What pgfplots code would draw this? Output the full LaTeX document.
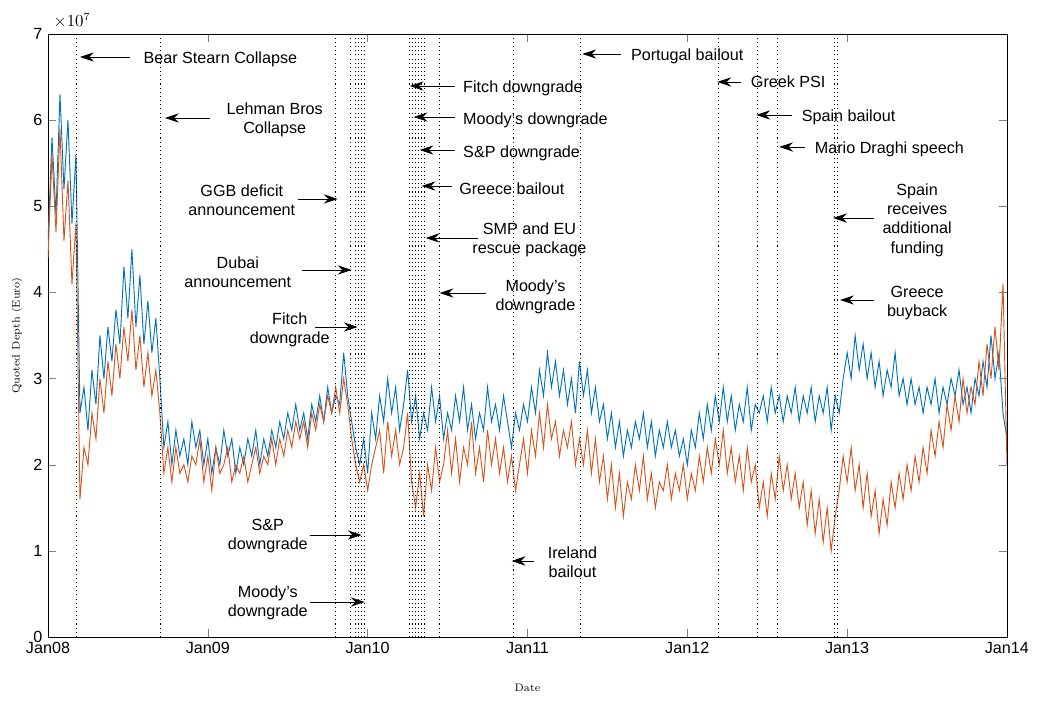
\documentclass[border=0pt]{standalone}
\usepackage{pgfplots}
\pgfplotsset{compat=1.18}
\usepackage{pgfplotstable}
\usepackage{fontspec}
\setmainfont{Liberation Sans}
\usetikzlibrary{arrows.meta}
\definecolor{mblue}{RGB}{0,114,189}
\definecolor{morange}{RGB}{217,83,25}
\def\u{0.65pt}
\newcommand\PP[2]{(axis cs:{2008+(#1-48)/160},{(637-#2)/86.14})}
\newcommand\ar[3]{\draw[-{Stealth[length=9pt,width=6pt]},line width=0.6pt] \PP{#3}{#2} -- \PP{#1}{#2};}
\pgfplotstableread{
x b o
2008.000 4.6 4.4
2008.025 5.8 5.6
2008.050 4.9 4.7
2008.075 6.3 5.9
2008.100 5.2 4.6
2008.125 6.0 5.3
2008.150 4.8 4.1
2008.175 5.6 4.8
2008.200 2.6 1.6
2008.225 2.9 2.2
2008.250 2.4 2.0
2008.275 3.1 2.6
2008.300 2.7 2.3
2008.325 3.5 3.0
2008.350 3.0 2.6
2008.375 3.6 3.2
2008.400 3.2 2.8
2008.425 3.8 3.4
2008.450 3.4 3.0
2008.475 4.3 3.6
2008.500 3.7 3.2
2008.525 4.5 3.8
2008.550 3.6 3.1
2008.575 4.2 3.5
2008.600 3.4 2.9
2008.625 3.9 3.3
2008.650 3.3 2.8
2008.675 3.7 3.1
2008.700 3.0 2.6
2008.725 2.2 1.9
2008.750 2.5 2.2
2008.775 2.0 1.8
2008.800 2.4 2.2
2008.825 2.1 1.9
2008.850 2.3 2.0
2008.875 2.0 1.8
2008.900 2.5 2.1
2008.925 2.2 2.0
2008.950 2.4 2.3
2008.975 2.0 1.8
2009.000 2.3 2.1
2009.025 1.9 1.7
2009.050 2.2 2.2
2009.075 2.0 1.9
2009.100 2.4 2.0
2009.125 2.1 2.2
2009.150 2.3 1.8
2009.175 1.9 2.0
2009.200 2.2 1.9
2009.225 2.0 2.1
2009.250 2.3 1.8
2009.275 2.1 2.0
2009.300 2.4 2.2
2009.325 2.0 1.9
2009.350 2.3 2.1
2009.375 2.1 2.0
2009.400 2.4 2.3
2009.425 2.2 2.0
2009.450 2.5 2.3
2009.475 2.3 2.1
2009.500 2.6 2.4
2009.525 2.4 2.2
2009.550 2.7 2.5
2009.575 2.4 2.3
2009.600 2.6 2.5
2009.625 2.3 2.2
2009.650 2.7 2.6
2009.675 2.5 2.4
2009.700 2.8 2.7
2009.725 2.5 2.5
2009.750 2.9 2.8
2009.775 2.6 2.6
2009.800 2.8 2.9
2009.825 2.7 2.6
2009.850 3.3 3.0
2009.875 2.8 2.7
2009.900 2.5 2.3
2009.925 2.2 2.0
2009.950 2.0 1.8
2009.975 2.3 2.0
2010.000 1.9 1.7
2010.025 2.6 2.0
2010.050 2.3 2.2
2010.075 2.8 2.4
2010.100 2.5 1.9
2010.125 3.0 2.5
2010.150 2.6 2.1
2010.175 2.9 2.4
2010.200 2.4 2.0
2010.225 2.7 2.2
2010.250 3.1 2.6
2010.275 2.5 1.8
2010.300 2.8 1.5
2010.325 2.3 1.9
2010.350 2.6 1.4
2010.375 2.4 2.0
2010.400 2.9 1.7
2010.425 2.5 2.2
2010.450 2.8 1.8
2010.475 2.3 2.0
2010.500 2.6 2.4
2010.525 2.4 1.9
2010.550 2.8 2.3
2010.575 2.5 1.8
2010.600 2.9 2.2
2010.625 2.4 2.0
2010.650 2.7 2.5
2010.675 2.3 1.9
2010.700 2.6 2.2
2010.725 2.4 1.8
2010.750 2.9 2.4
2010.775 2.5 2.0
2010.800 2.7 2.3
2010.825 2.4 1.9
2010.850 2.8 2.2
2010.875 2.5 1.8
2010.900 2.2 2.1
2010.925 2.6 1.7
2010.950 2.4 2.0
2010.975 2.7 2.3
2011.000 2.5 1.9
2011.025 2.9 2.4
2011.050 2.6 2.1
2011.075 3.1 2.6
2011.100 2.8 2.2
2011.125 3.3 2.7
2011.150 2.9 2.3
2011.175 3.2 2.5
2011.200 2.8 2.1
2011.225 3.1 2.4
2011.250 2.7 2.2
2011.275 3.0 2.5
2011.300 2.6 2.0
2011.325 3.2 2.3
2011.350 2.8 2.0
2011.375 3.1 2.4
2011.400 2.6 1.9
2011.425 2.9 2.3
2011.450 2.5 1.8
2011.475 2.7 2.1
2011.500 2.3 1.6
2011.525 2.6 2.0
2011.550 2.2 1.5
2011.575 2.5 1.9
2011.600 2.1 1.4
2011.625 2.4 1.8
2011.650 2.2 1.6
2011.675 2.5 2.0
2011.700 2.3 1.7
2011.725 2.6 2.1
2011.750 2.2 1.6
2011.775 2.5 1.9
2011.800 2.1 1.5
2011.825 2.4 1.8
2011.850 2.2 1.7
2011.875 2.5 2.0
2011.900 2.2 1.6
2011.925 2.4 1.9
2011.950 2.1 1.7
2011.975 2.3 2.0
2012.000 2.0 1.6
2012.025 2.4 1.9
2012.050 2.2 1.7
2012.075 2.6 2.1
2012.100 2.3 1.8
2012.125 2.7 2.2
2012.150 2.4 1.9
2012.175 2.8 2.3
2012.200 2.5 2.0
2012.225 2.9 2.4
2012.250 2.5 1.9
2012.275 2.8 2.2
2012.300 2.4 1.8
2012.325 2.7 2.1
2012.350 2.5 1.7
2012.375 2.9 2.2
2012.400 2.4 1.8
2012.425 2.7 2.0
2012.450 2.6 1.5
2012.475 2.8 1.8
2012.500 2.5 1.4
2012.525 2.9 1.9
2012.550 2.6 1.6
2012.575 2.8 2.1
2012.600 2.5 1.7
2012.625 2.8 2.0
2012.650 2.6 1.6
2012.675 2.9 1.9
2012.700 2.5 1.5
2012.725 2.8 1.8
2012.750 2.6 1.3
2012.775 2.9 1.7
2012.800 2.5 1.2
2012.825 2.8 1.6
2012.850 2.6 1.1
2012.875 2.9 1.5
2012.900 2.4 1.0
2012.925 2.8 1.4
2012.950 2.6 1.7
2012.975 3.0 2.1
2013.000 3.3 1.8
2013.025 3.0 2.2
2013.050 3.5 1.7
2013.075 3.1 2.0
2013.100 3.4 1.5
2013.125 3.0 1.9
2013.150 3.3 1.4
2013.175 2.9 1.7
2013.200 3.2 1.2
2013.225 2.8 1.6
2013.250 3.1 1.3
2013.275 2.9 1.8
2013.300 3.3 1.5
2013.325 2.8 1.9
2013.350 3.0 1.6
2013.375 2.7 2.0
2013.400 3.0 1.7
2013.425 2.7 2.1
2013.450 2.9 1.8
2013.475 2.6 2.2
2013.500 2.9 1.9
2013.525 2.7 2.4
2013.550 3.0 2.1
2013.575 2.6 2.5
2013.600 2.9 2.2
2013.625 2.7 2.7
2013.650 3.0 2.4
2013.675 2.8 2.8
2013.700 3.1 2.5
2013.725 2.7 3.0
2013.750 2.9 2.6
2013.775 2.6 2.9
2013.800 3.0 2.7
2013.825 2.8 3.2
2013.850 3.2 2.8
2013.875 2.9 3.4
2013.900 3.5 3.0
2013.925 3.0 3.6
2013.950 3.3 3.1
2013.975 2.6 4.1
2014.000 2.3 2.0
}\data
\begin{document}
\fontsize{10.5}{12.5}\selectfont
\begin{tikzpicture}
\begin{axis}[
  name=ax, at={(0,0)}, anchor=south west,
  scale only axis, width=959*\u, height=603*\u,
  xmin=2008, xmax=2014, ymin=0, ymax=7,
  xtick={2008,...,2014},
  xticklabels={Jan08,Jan09,Jan10,Jan11,Jan12,Jan13,Jan14},
  ytick={0,...,7},
  tick align=inside, major tick length=5pt,
  /pgf/number format/assume math mode=true,
  ticklabel style={font=\fontsize{10.5}{12}\selectfont},
  xlabel={\fontfamily{lmr}\selectfont\scriptsize Date},
  ylabel={\fontfamily{lmr}\selectfont\scriptsize Quoted Depth (Euro)},
  xlabel style={yshift=-12pt},
  axis line style={line width=0.5pt},
  clip=true,
]
\addplot[mblue, line width=0.6pt] table[x=x,y=b] {\data};
\addplot[morange, line width=0.6pt] table[x=x,y=o] {\data};
\pgfplotsinvokeforeach{77,161,336,351,356,359,362,365,410,413,416,419,422,425,440,514,581,719,758,778,835,838}{
  \draw[dotted, line width=0.7pt] (axis cs:{2008+(#1-48)/160},0) -- (axis cs:{2008+(#1-48)/160},7);
}
\ar{80}{57}{130}
\node[anchor=west] at \PP{138}{59} {Bear Stearn Collapse};
\ar{165}{118}{210}
\node[align=center] at \PP{275}{120} {Lehman Bros\\Collapse};
\ar{338}{199}{298}
\node[align=center] at \PP{242}{200} {GGB deficit\\announcement};
\ar{352}{270}{302}
\node[align=center] at \PP{238}{272} {Dubai\\announcement};
\ar{358}{327}{315}
\node[align=center] at \PP{290}{330} {Fitch\\downgrade};
\ar{362}{535}{310}
\node[align=center] at \PP{268}{536} {S\&P\\downgrade};
\ar{365}{602}{310}
\node[align=center] at \PP{268}{603} {Moody's\\downgrade};
\ar{410}{86}{455}
\node[anchor=west] at \PP{458}{88} {Fitch downgrade};
\ar{414}{117}{455}
\node[anchor=west] at \PP{458}{120} {Moody's downgrade};
\ar{420}{150}{455}
\node[anchor=west] at \PP{458}{153} {S\&P downgrade};
\ar{422}{186}{452}
\node[anchor=west] at \PP{454}{189} {Greece bailout};
\ar{426}{238}{478}
\node[align=center] at \PP{530}{240} {SMP and EU\\rescue package};
\ar{440}{293}{486}
\node[align=center] at \PP{536}{297} {Moody's\\downgrade};
\ar{512}{561}{535}
\node[align=center] at \PP{573}{562} {Ireland\\bailout};
\ar{583}{54}{622}
\node[anchor=west] at \PP{626}{56} {Portugal bailout};
\ar{718}{82}{742}
\node[anchor=west] at \PP{746}{82} {Greek PSI};
\ar{757}{115}{793}
\node[anchor=west] at \PP{797}{117} {Spain bailout};
\ar{780}{147}{806}
\node[anchor=west] at \PP{810}{149} {Mario Draghi speech};
\ar{834}{218}{875}
\node[align=center] at \PP{918}{220} {Spain\\receives\\additional\\funding};
\ar{841}{300}{875}
\node[align=center] at \PP{918}{303} {Greece\\buyback};
\end{axis}
\node[anchor=south west, font=\fontsize{10.5}{12}\selectfont] at (ax.north west) {$\times10^{7}$};
\pgfresetboundingbox
\useasboundingbox (-48*\u,-63*\u) rectangle (989*\u,637*\u);
\end{tikzpicture}
\end{document}
